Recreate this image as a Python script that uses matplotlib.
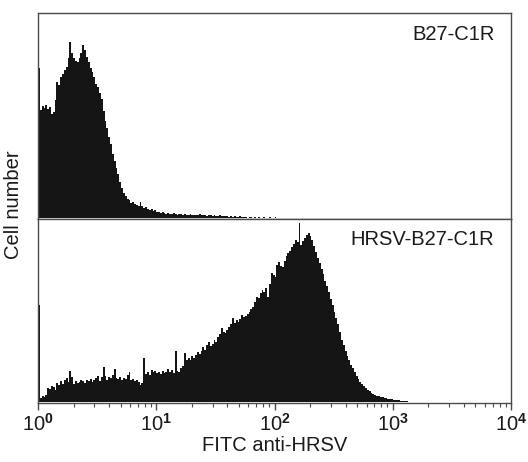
import numpy as np
import matplotlib
matplotlib.use("Agg")
import matplotlib.pyplot as plt

# ---- data -------------------------------------------------------------
top_label = "B27-C1R"
bottom_label = "HRSV-B27-C1R"
x_label = "FITC anti-HRSV"
y_label = "Cell number"
decade_ticks = [1, 10, 100, 1000, 10000]
tick_labels = [r"$10^{\mathbf{0}}$", r"$10^{\mathbf{1}}$", r"$10^{\mathbf{2}}$",
               r"$10^{\mathbf{3}}$", r"$10^{\mathbf{4}}$"]
channels_per_decade = 64   # 256 channels over 4 decades

# cell counts per channel (starting at channel 0), B27-C1R
top_counts = [
    150, 108, 112, 110, 113, 109, 111, 104, 106, 118,
    136, 133, 141, 144, 148, 151, 160, 176, 165, 160,
    157, 156, 160, 165, 173, 168, 161, 156, 150, 146,
    141, 134, 131, 125, 119, 107, 97, 90, 81, 74,
    64, 57, 50, 44, 36, 30, 25, 22, 19, 18,
    15, 16, 14, 13, 12, 16, 12, 10, 11, 9,
    8, 9, 7, 8, 6, 6, 5, 6, 5, 4,
    5, 4, 4, 5, 4, 3, 4, 4, 3, 4,
    3, 3, 4, 3, 3, 3, 3, 4, 3, 3,
    3, 2, 3, 3, 2, 3, 2, 2, 3, 2,
    2, 2, 2, 1, 2, 1, 2, 1, 1, 2,
    1, 1, 1, 0, 1, 1, 0, 1, 0, 1,
    0, 0, 1, 0, 0, 1, 0, 0, 1,
]

# cell counts per channel (starting at channel 0), HRSV-B27-C1R
bottom_counts = [
    97, 4, 6, 5, 7, 14, 13, 16, 15, 12,
    19, 17, 21, 18, 22, 24, 20, 31, 25, 18,
    21, 19, 20, 22, 21, 19, 22, 21, 23, 20,
    22, 24, 26, 21, 25, 35, 26, 22, 25, 24,
    27, 33, 24, 23, 25, 22, 24, 23, 27, 30,
    22, 23, 21, 22, 20, 17, 19, 44, 28, 30,
    27, 32, 30, 31, 29, 30, 28, 31, 29, 30,
    33, 30, 32, 29, 51, 31, 30, 34, 36, 49,
    42, 44, 42, 46, 44, 47, 50, 48, 51, 55,
    52, 57, 60, 56, 58, 62, 60, 65, 68, 74,
    70, 69, 72, 75, 78, 84, 79, 82, 80, 83,
    87, 85, 86, 88, 90, 93, 95, 100, 105, 104,
    109, 112, 110, 114, 105, 118, 129, 127, 125, 137,
    140, 136, 135, 141, 146, 149, 151, 155, 158, 162,
    160, 179, 157, 161, 164, 167, 169, 166, 162, 156,
    150, 144, 139, 133, 128, 121, 116, 110, 103, 97,
    90, 84, 78, 70, 62, 57, 51, 46, 42, 37,
    34, 30, 26, 23, 20, 18, 16, 14, 12, 11,
    9, 8, 7, 6, 6, 5, 5, 4, 4, 3,
    3, 3, 2, 2, 2, 2, 1, 1, 1, 1,
]

# ---- style ------------------------------------------------------------
plt.rcParams['font.family'] = ['Liberation Sans', 'DejaVu Sans']
plt.rcParams['mathtext.fontset'] = 'custom'
plt.rcParams['mathtext.rm'] = 'Liberation Sans'
plt.rcParams['mathtext.it'] = 'Liberation Sans'
plt.rcParams['mathtext.bf'] = 'Liberation Sans:bold'

W, H = 528, 462
fig = plt.figure(figsize=(W / 100, H / 100), dpi=100)
left, right = 38, 511
ax_top = fig.add_axes([left / W, 1 - 219 / H, (right - left) / W, 206 / H])
ax_bot = fig.add_axes([left / W, 1 - 403 / H, (right - left) / W, 184 / H])

spine_col = '#4a4a4a'
fill_col = '#151515'


def draw(ax, counts, label, ymax):
    edges = 10 ** (np.arange(len(counts) + 1) / channels_per_decade)
    ax.stairs(counts, edges, fill=True, color=fill_col, linewidth=0)
    ax.set_xscale('log')
    ax.set_xlim(decade_ticks[0], decade_ticks[-1])
    ax.set_ylim(-1, ymax)
    ax.set_yticks([])
    for s in ax.spines.values():
        s.set_color(spine_col)
        s.set_linewidth(1.0)
    ax.text(0.965, 0.94, label, transform=ax.transAxes, ha='right', va='top',
            fontsize=14.5, color='#1a1a1a')


draw(ax_top, top_counts, top_label, 205)
draw(ax_bot, bottom_counts, bottom_label, 183)

ax_top.tick_params(axis='x', which='both', bottom=False, labelbottom=False)
ax_bot.set_xticks(decade_ticks)
ax_bot.set_xticklabels(tick_labels)
ax_bot.tick_params(axis='x', which='major', direction='out', length=5, width=1,
                   color=spine_col, labelsize=14.5, pad=2, labelcolor='#1a1a1a')
ax_bot.tick_params(axis='x', which='minor', direction='out', length=3, width=0.8,
                   color=spine_col)
ax_bot.set_xlabel(x_label, fontsize=14.5, color='#1a1a1a', labelpad=1)

fig.text(14 / W, 1 - 205 / H, y_label, rotation=90, ha='center', va='center',
         fontsize=14.5, color='#1a1a1a')

fig.savefig('out.png', dpi=100)
